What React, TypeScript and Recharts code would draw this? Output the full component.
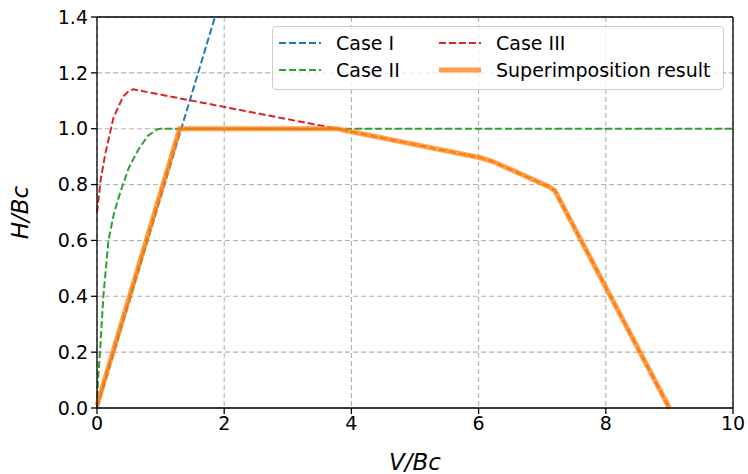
import React from "react";
import { LineChart, Line, XAxis, YAxis, CartesianGrid, Label, ReferenceLine } from "recharts";

const xTicks = [0, 2, 4, 6, 8, 10];
const yTicks = [0, 0.2, 0.4, 0.6, 0.8, 1.0, 1.2, 1.4];

const caseI = [
  { x: 0, y: 0 },
  { x: 1.855, y: 1.4 },
];

const caseII = [
  { x: 0, y: 0 },
  { x: 0.015, y: 0.1 },
  { x: 0.047, y: 0.2 },
  { x: 0.1, y: 0.4 },
  { x: 0.18, y: 0.6 },
  { x: 0.27, y: 0.7 },
  { x: 0.377, y: 0.78 },
  { x: 0.5, y: 0.86 },
  { x: 0.65, y: 0.925 },
  { x: 0.8, y: 0.975 },
  { x: 0.95, y: 0.998 },
  { x: 1.0, y: 1.0 },
  { x: 10, y: 1.0 },
];

const caseIII = [
  { x: 0, y: 0.7 },
  { x: 0.02, y: 0.74 },
  { x: 0.06, y: 0.82 },
  { x: 0.13, y: 0.91 },
  { x: 0.26, y: 1.04 },
  { x: 0.41, y: 1.115 },
  { x: 0.5, y: 1.135 },
  { x: 0.57, y: 1.141 },
  { x: 3.77, y: 1.0 },
];

const superimposition = [
  { x: 0, y: 0.01 },
  { x: 1.3, y: 1.0 },
  { x: 3.77, y: 1.0 },
  { x: 6.05, y: 0.895 },
  { x: 6.25, y: 0.88 },
  { x: 7.1, y: 0.793 },
  { x: 7.2, y: 0.778 },
  { x: 9.0, y: 0 },
];

const legendItems = [
  { name: "Case I", color: "#1f77b4", dashed: true },
  { name: "Case III", color: "#d62728", dashed: true },
  { name: "Case II", color: "#2ca02c", dashed: true },
  { name: "Superimposition result", color: "#ff7f0e", dashed: false },
];

const FONT = "'DejaVu Sans', sans-serif";
const DASH = "7 3";

export default function App() {
  return (
    <div style={{ position: "absolute", left: 0, top: 0, width: 748, height: 474, background: "#fff" }}>
      <LineChart
        width={748}
        height={474}
        margin={{ top: 17, right: 15, bottom: 26, left: 47 }}
      >
        <CartesianGrid stroke="#b0b0b0" strokeDasharray="5 3" strokeWidth={1.1} />
        <XAxis
          type="number"
          dataKey="x"
          domain={[0, 10]}
          ticks={xTicks}
          height={40}
          stroke="#000"
          strokeWidth={1.3}
          tick={{ fill: "#000", fontSize: 19, fontFamily: FONT }}
          tickSize={6}
          tickMargin={3}
        >
          <Label
            value="V/Bc"
            position="insideBottom"
            offset={-22}
            style={{ fontStyle: "italic", fontSize: 23, fill: "#000", fontFamily: FONT }}
          />
        </XAxis>
        <YAxis
          type="number"
          domain={[0, 1.4]}
          ticks={yTicks}
          width={50}
          stroke="#000"
          strokeWidth={1.3}
          tickFormatter={(v: number) => v.toFixed(1)}
          tick={{ fill: "#000", fontSize: 19, fontFamily: FONT }}
          tickSize={6}
          tickMargin={3}
        >
          <Label
            value="H/Bc"
            angle={-90}
            position="insideLeft"
            offset={-27}
            style={{ fontStyle: "italic", fontSize: 23, fill: "#000", fontFamily: FONT, textAnchor: "middle" }}
          />
        </YAxis>
        <ReferenceLine y={1.4} stroke="#000" strokeWidth={1.3} />
        <ReferenceLine x={10} stroke="#000" strokeWidth={1.3} />
        <Line data={caseI} dataKey="y" type="linear" stroke="#1f77b4" strokeWidth={2} strokeDasharray={DASH} dot={false} isAnimationActive={false} name="Case I" />
        <Line data={caseII} dataKey="y" type="linear" stroke="#2ca02c" strokeWidth={2} strokeDasharray={DASH} dot={false} isAnimationActive={false} name="Case II" />
        <Line data={caseIII} dataKey="y" type="linear" stroke="#d62728" strokeWidth={2} strokeDasharray={DASH} dot={false} isAnimationActive={false} name="Case III" />
        <Line data={superimposition} dataKey="y" type="linear" stroke="#f07010" strokeWidth={2} strokeDasharray={DASH} dot={false} isAnimationActive={false} name="dashed" />
        <Line data={superimposition} dataKey="y" type="linear" stroke="#ff7f0e" strokeOpacity={0.75} strokeWidth={5} dot={false} isAnimationActive={false} name="Superimposition result" />
      </LineChart>
      <div
        style={{
          position: "absolute",
          left: 272,
          top: 26,
          width: 450,
          height: 62,
          border: "1.3px solid #cccccc",
          borderRadius: 4,
          background: "rgba(255,255,255,0.8)",
          fontFamily: FONT,
          fontSize: 19,
          color: "#000",
        }}
      >
        {legendItems.map((it, i) => {
          const col = i % 2;
          const row = Math.floor(i / 2);
          const left = col === 0 ? 5 : 165;
          const top = row === 0 ? 3 : 30;
          return (
            <div key={it.name} style={{ position: "absolute", left, top, height: 26, display: "flex", alignItems: "center", whiteSpace: "nowrap" }}>
              <svg width={44} height={10} style={{ marginRight: 14 }}>
                <line
                  x1={1}
                  x2={43}
                  y1={5}
                  y2={5}
                  stroke={it.color}
                  strokeOpacity={it.dashed ? 1 : 0.75}
                  strokeWidth={it.dashed ? 2 : 5}
                  strokeDasharray={it.dashed ? DASH : undefined}
                />
              </svg>
              <span>{it.name}</span>
            </div>
          );
        })}
      </div>
    </div>
  );
}
